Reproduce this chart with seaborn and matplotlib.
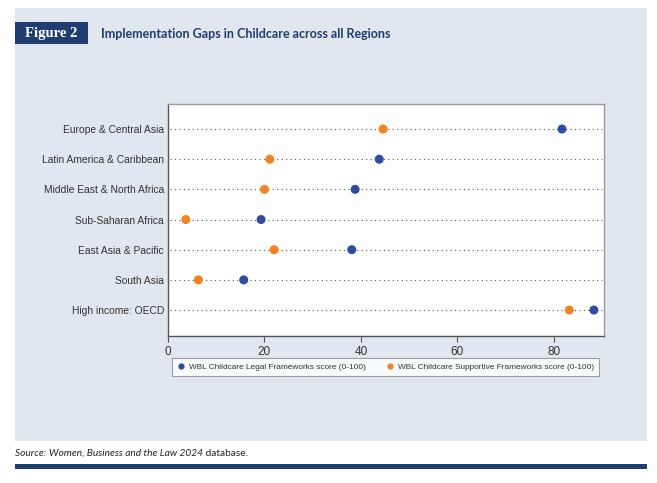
import matplotlib
matplotlib.use("Agg")
import matplotlib.pyplot as plt
from matplotlib.patches import Rectangle
from matplotlib.lines import Line2D
import seaborn as sns
import pandas as pd

regions = ["Europe & Central Asia", "Latin America & Caribbean", "Middle East & North Africa",
           "Sub-Saharan Africa", "East Asia & Pacific", "South Asia", "High income: OECD"]
legal = [81.7, 43.8, 38.8, 19.3, 38.1, 15.7, 88.3]
supportive = [44.6, 21.1, 20.0, 3.7, 22.0, 6.3, 83.2]
series_names = ["WBL Childcare Legal Frameworks score (0-100)",
                "WBL Childcare Supportive Frameworks score (0-100)"]
xticks = [0, 20, 40, 60, 80]

df = pd.concat([
    pd.DataFrame({"region": regions, "score": legal, "series": series_names[0]}),
    pd.DataFrame({"region": regions, "score": supportive, "series": series_names[1]}),
])

sns.set_theme(style="white")
plt.rcParams['font.family'] = ['Liberation Sans', 'DejaVu Sans']

W, H = 657, 483
fig = plt.figure(figsize=(W / 100, H / 100), dpi=100)
fig.patch.set_facecolor("white")

def fx(px):
    return px / W

def fy(py):
    return 1 - py / H

navy = "#1f3d6e"
blue = "#2f4d9e"
orange = "#f58220"

# background panel
fig.patches.append(Rectangle((fx(15), fy(441)), fx(632), (441 - 8) / H,
                             transform=fig.transFigure, facecolor="#e1e7ef",
                             edgecolor="none", zorder=-5))
# figure label box
fig.patches.append(Rectangle((fx(15), fy(44)), fx(73), 22 / H,
                             transform=fig.transFigure, facecolor=navy,
                             edgecolor="none", zorder=-4))
fig.text(fx(51.5), fy(33.5), "Figure 2", color="white", fontsize=10.5,
         fontweight="bold", family="Liberation Serif", ha="center", va="center")
fig.text(fx(101), fy(33.5), "Implementation Gaps in Childcare across all Regions",
         color=navy, fontsize=9.0, fontweight="bold", family="Lato",
         ha="left", va="center")
# bottom rule
fig.patches.append(Rectangle((fx(15), fy(469)), fx(632), 5 / H,
                             transform=fig.transFigure, facecolor=navy,
                             edgecolor="none", zorder=-4))
t1 = fig.text(fx(15), fy(453), "Source: ", fontsize=7.3, family="Lato",
              style="italic", color="#222222", ha="left", va="center")
fig.canvas.draw()
r = fig.canvas.get_renderer()
bb = t1.get_window_extent(r)
t2 = fig.text(bb.x1 / W, fy(453), "Women, Business and the Law 2024", fontsize=7.3,
              family="Lato", style="italic", color="#222222", ha="left", va="center")
bb2 = t2.get_window_extent(r)
fig.text(bb2.x1 / W + 0.001, fy(453), " database.", fontsize=7.3, family="Lato",
         color="#222222", ha="left", va="center")

ax = fig.add_axes([fx(168), fy(336), fx(604 - 168), (336 - 104) / H])
ax.set_zorder(2)
ax.set_facecolor("white")
sns.stripplot(data=df, x="score", y="region", hue="series", order=regions,
              hue_order=series_names, palette=[blue, orange], jitter=False,
              size=6.5, linewidth=0, ax=ax, legend=False, zorder=3)

ax.set_xlim(0, 90.4)
ax.set_ylim(6.86, -0.83)
ax.set_xticks(xticks)
ax.set_xticklabels([str(v) for v in xticks], fontsize=8.5, color="#333333")
ax.tick_params(axis="x", length=4, width=0.8, color="#555555", pad=3, bottom=True)
ax.tick_params(axis="y", length=0, pad=3, labelsize=7.4, labelcolor="#333333")
ax.set_xlabel("")
ax.set_ylabel("")
ax.grid(False)
for i in range(len(regions)):
    ax.axhline(i, xmin=0.005, xmax=0.995, color="#555555", linestyle=(0, (1, 3)),
               linewidth=0.8, zorder=1)
for s in ["left", "bottom"]:
    ax.spines[s].set_color("#555555")
    ax.spines[s].set_linewidth(1.0)
for s in ["top", "right"]:
    ax.spines[s].set_color("#999999")
    ax.spines[s].set_linewidth(1.0)

handles = [Line2D([], [], marker="o", linestyle="none", markersize=4.5,
                  markerfacecolor=c, markeredgewidth=0) for c in [blue, orange]]
leg = fig.legend(handles, series_names, loc="center left",
                 bbox_to_anchor=(fx(172), fy(367)),
                 bbox_transform=fig.transFigure, ncol=2, fontsize=5.95,
                 frameon=True, fancybox=False, borderpad=0.6,
                 handletextpad=0.45, columnspacing=2.4,
                 handlelength=1.0, borderaxespad=0)
leg.get_frame().set_edgecolor("#888888")
leg.get_frame().set_linewidth(0.8)
leg.get_frame().set_facecolor("white")
for t in leg.get_texts():
    t.set_color("#333333")

fig.savefig("out.png", dpi=100)
